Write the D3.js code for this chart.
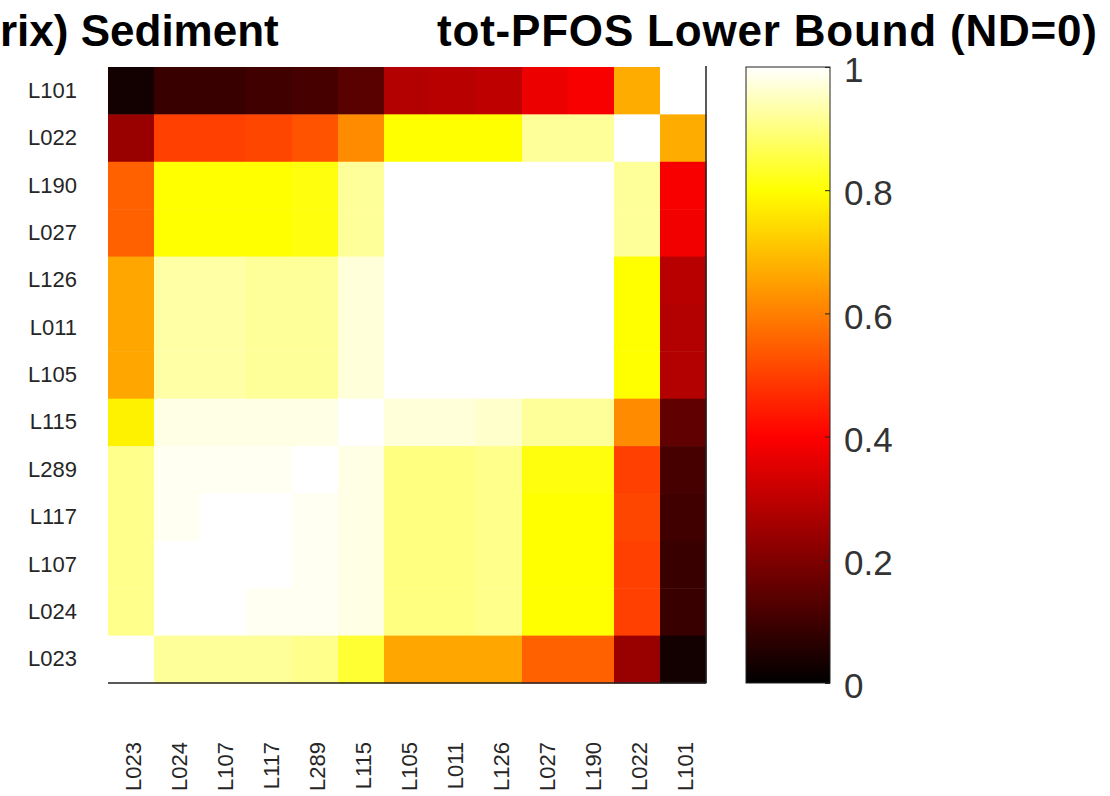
<!DOCTYPE html>
<html>
<head>
<meta charset="utf-8">
<script src="https://cdn.jsdelivr.net/npm/d3@7"></script>
<style>
  html, body { margin: 0; padding: 0; background: #fff; overflow: hidden; }
  svg { display: block; }
</style>
</head>
<body>
<div id="map"></div>
<script>
// rows top -> bottom, columns left -> right
var rowLabels = ['L101', 'L022', 'L190', 'L027', 'L126', 'L011', 'L105', 'L115', 'L289', 'L117', 'L107', 'L024', 'L023'];
var colLabels = ['L023', 'L024', 'L107', 'L117', 'L289', 'L115', 'L105', 'L011', 'L126', 'L027', 'L190', 'L022', 'L101'];

var values = [
  [0.03, 0.09, 0.09, 0.10, 0.11, 0.14, 0.28, 0.29, 0.30, 0.37, 0.39, 0.67, 1.00],
  [0.24, 0.50, 0.50, 0.51, 0.53, 0.62, 0.80, 0.80, 0.80, 0.92, 0.92, 1.00, 0.67],
  [0.55, 0.80, 0.80, 0.80, 0.81, 0.92, 1.00, 1.00, 1.00, 1.00, 1.00, 0.92, 0.39],
  [0.55, 0.80, 0.80, 0.80, 0.81, 0.92, 1.00, 1.00, 1.00, 1.00, 1.00, 0.92, 0.38],
  [0.66, 0.93, 0.93, 0.92, 0.92, 0.97, 1.00, 1.00, 1.00, 1.00, 1.00, 0.80, 0.29],
  [0.66, 0.93, 0.93, 0.92, 0.92, 0.97, 1.00, 1.00, 1.00, 1.00, 1.00, 0.80, 0.28],
  [0.66, 0.93, 0.93, 0.92, 0.92, 0.97, 1.00, 1.00, 1.00, 1.00, 1.00, 0.80, 0.28],
  [0.78, 0.98, 0.98, 0.98, 0.98, 1.00, 0.97, 0.97, 0.96, 0.92, 0.92, 0.62, 0.15],
  [0.91, 0.99, 0.99, 0.99, 1.00, 0.98, 0.90, 0.90, 0.91, 0.81, 0.81, 0.50, 0.11],
  [0.91, 0.99, 1.00, 1.00, 0.99, 0.98, 0.90, 0.90, 0.91, 0.80, 0.80, 0.51, 0.10],
  [0.91, 1.00, 1.00, 1.00, 0.99, 0.98, 0.90, 0.90, 0.91, 0.80, 0.80, 0.50, 0.09],
  [0.91, 1.00, 1.00, 0.99, 0.99, 0.98, 0.90, 0.90, 0.91, 0.80, 0.80, 0.50, 0.09],
  [1.00, 0.92, 0.92, 0.92, 0.91, 0.84, 0.66, 0.66, 0.66, 0.55, 0.55, 0.24, 0.03]
];

var colorStops = [0, 0.4, 0.8, 1];
var colorRange = ['#000000', '#ff0000', '#ffff00', '#ffffff'];
var colorbarTicks = [0, 0.2, 0.4, 0.6, 0.8, 1];

var titleLeft = 'rix) Sediment';
var titleRight = 'tot-PFOS Lower Bound (ND=0)';

(function() {

  'use strict'

  var Heatmap = function(element) {
    this.element = element;
    this.svg = null;

    this.width = 1110;
    this.height = 796;

    this.plot = { left: 108, right: 706, top: 67, bottom: 683 };
    this.bar = { left: 746, right: 830 };

    this.fontFamily = '"Liberation Sans", Arial, Helvetica, sans-serif';
    this.textFill = '#262626';
  };

  Heatmap.prototype.init = function() {
    this.svg = d3.select(this.element).append('svg')
      .attr('width', this.width)
      .attr('height', this.height)
      .style('font-family', this.fontFamily);

    this.x = d3.scaleBand().domain(colLabels).range([this.plot.left, this.plot.right]);
    this.y = d3.scaleBand().domain(rowLabels).range([this.plot.top, this.plot.bottom]);
    this.color = d3.scaleLinear().domain(colorStops).range(colorRange);

    this.setCells().setAxes().setColorbar().setTitle();
  };

  Heatmap.prototype.setCells = function() {
    var cells = [];
    values.forEach(function(row, i) {
      row.forEach(function(v, j) {
        cells.push({ row: rowLabels[i], col: colLabels[j], value: v });
      });
    });

    this.svg.append('g')
      .selectAll('rect')
      .data(cells)
      .enter().append('rect')
      .attr('x', function(d) { return this.x(d.col); }.bind(this))
      .attr('y', function(d) { return this.y(d.row); }.bind(this))
      .attr('width', this.x.bandwidth() + 0.5)
      .attr('height', this.y.bandwidth() + 0.5)
      .attr('fill', function(d) { return this.color(d.value); }.bind(this));
    return this;
  };

  Heatmap.prototype.setAxes = function() {
    var p = this.plot;

    // row labels
    var yAxis = this.svg.append('g')
      .attr('transform', 'translate(' + p.left + ',0)')
      .call(d3.axisLeft(this.y).tickSize(0).tickPadding(31));
    yAxis.select('.domain').remove();
    yAxis.selectAll('text')
      .attr('font-size', '22px')
      .attr('font-family', this.fontFamily)
      .attr('fill', this.textFill);

    // column labels, rotated
    var xAxis = this.svg.append('g')
      .attr('transform', 'translate(0,' + p.bottom + ')')
      .call(d3.axisBottom(this.x).tickSize(0));
    xAxis.select('.domain').remove();
    xAxis.selectAll('text')
      .attr('transform', 'rotate(-90)')
      .attr('text-anchor', 'end')
      .attr('x', -59)
      .attr('y', 0)
      .attr('dy', '0.45em')
      .attr('font-size', '22px')
      .attr('font-family', this.fontFamily)
      .attr('fill', this.textFill);

    // bottom and right frame lines
    this.svg.append('line')
      .attr('x1', p.left).attr('x2', p.right)
      .attr('y1', p.bottom).attr('y2', p.bottom)
      .attr('stroke', '#222').attr('stroke-width', 1.5);
    this.svg.append('line')
      .attr('x1', p.right).attr('x2', p.right)
      .attr('y1', p.top - 1).attr('y2', p.bottom)
      .attr('stroke', '#222').attr('stroke-width', 1.5);
    return this;
  };

  Heatmap.prototype.setColorbar = function() {
    var p = this.plot, b = this.bar;
    var scale = d3.scaleLinear().domain([0, 1]).range([p.bottom, p.top]);

    var grad = this.svg.append('defs').append('linearGradient')
      .attr('id', 'hotbar')
      .attr('x1', 0).attr('y1', 1).attr('x2', 0).attr('y2', 0);
    grad.selectAll('stop')
      .data(colorStops)
      .enter().append('stop')
      .attr('offset', function(d) { return d; })
      .attr('stop-color', function(d) { return this.color(d); }.bind(this));

    this.svg.append('rect')
      .attr('x', b.left)
      .attr('y', p.top)
      .attr('width', b.right - b.left)
      .attr('height', p.bottom - p.top)
      .attr('fill', 'url(#hotbar)')
      .attr('stroke', '#222')
      .attr('stroke-width', 1);

    var cAxis = this.svg.append('g')
      .attr('transform', 'translate(' + b.right + ',0)')
      .call(d3.axisRight(scale)
        .tickValues(colorbarTicks)
        .tickFormat(d3.format('~g'))
        .tickSizeInner(-5)
        .tickSizeOuter(0)
        .tickPadding(14));
    cAxis.select('.domain').remove();
    cAxis.selectAll('line').attr('stroke', '#222');
    cAxis.selectAll('text')
      .attr('dy', '0.42em')
      .attr('font-size', '35px')
      .attr('font-family', this.fontFamily)
      .attr('fill', '#333');
    return this;
  };

  Heatmap.prototype.setTitle = function() {
    this.svg.append('text')
      .attr('x', 0)
      .attr('y', 46)
      .attr('font-size', '44px')
      .attr('font-weight', 'bold')
      .attr('fill', '#000')
      .text(titleLeft);

    this.svg.append('text')
      .attr('x', 437)
      .attr('y', 46)
      .attr('font-size', '44px')
      .attr('font-weight', 'bold')
      .attr('fill', '#000')
      .attr('textLength', 660)
      .attr('lengthAdjust', 'spacing')
      .text(titleRight);
    return this;
  };

  var app = new Heatmap('#map');
  app.init();

})();
</script>
</body>
</html>
